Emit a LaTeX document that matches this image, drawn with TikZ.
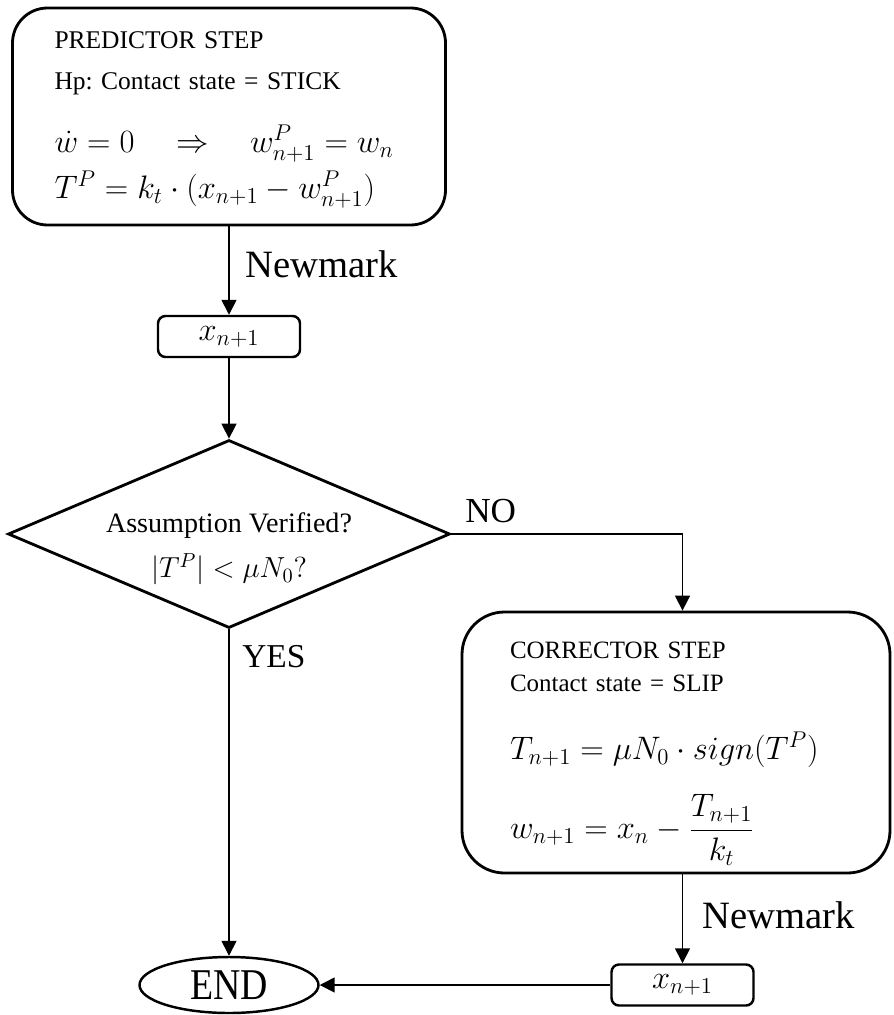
\documentclass[tikz,border=0pt]{standalone}
\usepackage{fix-cm}
\usepackage[no-math]{fontspec}
\setmainfont{Liberation Serif}
\frenchspacing
\usetikzlibrary{shapes.geometric,arrows.meta,positioning}

\newcommand{\mathbig}[1]{\mbox{\fontsize{18.5}{22}\selectfont$#1$}}

\tikzset{
  stepbox/.style={draw, line width=1.6pt, rounded corners=0.7cm, align=left, inner sep=0pt},
  valbox/.style={draw, line width=1.4pt, rounded corners=0.15cm, minimum width=2.84cm,
    minimum height=0.82cm, inner sep=0pt, font=\fontsize{18.5}{22}\selectfont},
  decision/.style={draw, diamond, line width=1.6pt, minimum width=8.84cm,
    minimum height=3.76cm, inner sep=0pt},
  endnode/.style={draw, ellipse, line width=1.4pt, minimum width=3.58cm,
    minimum height=1.12cm, inner sep=0pt},
  flow/.style={line width=0.9pt, -{Triangle[length=0.3cm,width=0.3cm]}},
  tag/.style={anchor=base west, inner sep=0pt, font=\fontsize{20}{24}\selectfont},
}

\begin{document}
\begin{tikzpicture}
  \useasboundingbox (0,0) rectangle (17.86,-20.3);
  % predictor step
  \node[stepbox, minimum width=8.66cm, minimum height=4.34cm, text width=6.98cm,
        font=\fontsize{14.5}{23}\selectfont] (pred) at (4.58,-2.33)
    {\rule{0pt}{13.6pt}PREDICTOR STEP\\
     Hp: Contact state = STICK\\[13pt]
     \mathbig{\dot{w}=0\quad\Rightarrow\quad w^P_{n+1}=w_n}\\[3pt]
     \mathbig{T^P=k_t\cdot(x_{n+1}-w^P_{n+1})}};
  \node[valbox] (xa) at (4.58,-6.73) {$x_{n+1}$};
  \node[tag, font=\fontsize{22}{26}\selectfont] (nma) at (4.9,-5.56) {Newmark};
  % check of the stick hypothesis
  \node[decision] (check) at (4.58,-10.68) {};
  \node[align=center, inner sep=0pt, font=\fontsize{16}{25.5}\selectfont] (checktext)
    at (4.58,-10.98)
    {Assumption Verified?\\ \mbox{\fontsize{16.5}{19}\selectfont$|T^P|<\mu N_0?$}};
  \node[tag] (no) at (9.3,-10.44) {NO};
  \node[tag, font=\fontsize{19}{23}\selectfont] (yes) at (4.84,-13.34) {YES};
  % corrector step
  \node[stepbox, minimum width=8.56cm, minimum height=5.22cm, text width=6.64cm,
        rounded corners=0.85cm, font=\fontsize{14.2}{18.7}\selectfont] (corr) at (13.52,-14.85)
    {\rule{0pt}{22.4pt}CORRECTOR STEP\\
     Contact state = SLIP\\[20pt]
     \mathbig{T_{n+1}=\mu N_0\cdot sign(T^P)}\\[14pt]
     \mathbig{w_{n+1}=x_n-\displaystyle\frac{T_{n+1}}{k_t}}};
  \node[valbox] (xb) at (13.65,-19.7) {$x_{n+1}$};
  \node[tag, font=\fontsize{22}{26}\selectfont] (nmb) at (14.04,-18.56) {Newmark};
  \node[endnode] (end) at (4.58,-19.7)
    {\fontsize{25}{29}\selectfont\scalebox{0.86}[1]{END}};
  % connectors
  \draw[flow] (pred) -- (xa);
  \draw[flow] (xa) -- (check);
  \draw[flow] (check.east) -| (xb |- corr.north);
  \draw[flow] (check.south) -- (end);
  \draw[flow] (xb |- corr.south) -- (xb);
  \draw[flow] (xb) -- (end);
\end{tikzpicture}
\end{document}
